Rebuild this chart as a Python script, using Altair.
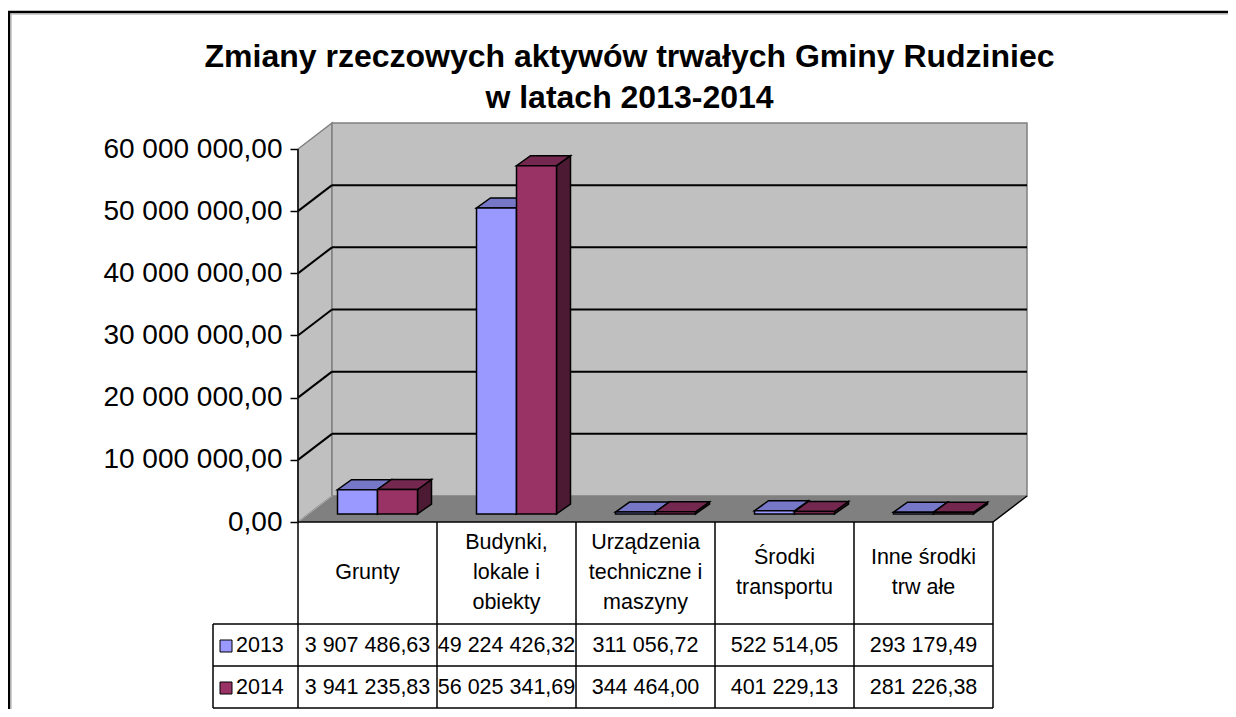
import altair as alt
import pandas as pd

# ---------------- data ----------------
categories = ["Grunty", "Budynki, lokale i obiekty", "Urządzenia techniczne i maszyny",
              "Środki transportu", "Inne środki trwałe"]
header_labels = ["Grunty", "Budynki,\nlokale i\nobiekty", "Urządzenia\ntechniczne i\nmaszyny",
                 "Środki\ntransportu", "Inne środki\ntrw ałe"]
years = ["2013", "2014"]
values_2013 = [3907486.63, 49224426.32, 311056.72, 522514.05, 293179.49]
values_2014 = [3941235.83, 56025341.69, 344464.00, 401229.13, 281226.38]
y_ticks = [0, 10000000, 20000000, 30000000, 40000000, 50000000, 60000000]
title_lines = ["Zmiany rzeczowych aktywów trwałych Gminy Rudziniec", "w latach 2013-2014"]

# ---------------- layout / style constants (pixels) ----------------
W, H = 729, 399
CAT_PX = 139
DEPTH_X, DEPTH_Y = 34, 26
BAR_PX = 40
BAR_DX, BAR_DY = 14, 10
Y_MAX = 60000000
N = len(categories)
UY = (H - DEPTH_Y) / Y_MAX
FONT = "Arial, Liberation Sans, sans-serif"
LINE_H = 30

front_col = {"2013": "#9999FF", "2014": "#993366"}
top_col = {"2013": "#7777C8", "2014": "#74284F"}
side_col = {"2013": "#4D4D80", "2014": "#4D1A33"}


def px_x(p):
    return p / CAT_PX


def px_y(p):
    return p / UY


DX, DY = px_x(DEPTH_X), px_y(DEPTH_Y)
xs = alt.Scale(domain=[0, N + DX], nice=False, zero=False)
ys = alt.Scale(domain=[0, Y_MAX + DY], nice=False, zero=False)
yaxis = alt.Axis(values=y_ticks, title=None, grid=False, domain=False,
                 labelExpr="replace(replace(format(datum.value, ',.2f'), regexp(',', 'g'), ' '), '.', ',')",
                 labelFont=FONT, labelFontSize=28, labelColor="black", labelPadding=8,
                 tickColor="black", tickSize=8, tickWidth=1.5)


def X(f):
    return alt.X(f, type="quantitative", scale=xs, axis=None)


def Y(f):
    return alt.Y(f, type="quantitative", scale=ys, axis=yaxis)


def rules(rows, color="black", width=1.5):
    df = pd.DataFrame(rows, columns=["x", "x2", "y", "y2"])
    return alt.Chart(df).mark_rule(color=color, strokeWidth=width).encode(
        x=X("x"), x2=alt.X2("x2"), y=Y("y"), y2=alt.Y2("y2"))


layers = []

# outer frame (decoration)
frame_df = pd.DataFrame({"a": [0]})
layers.append(alt.Chart(frame_df).mark_rect(fillOpacity=0, stroke="black", strokeWidth=2.5).encode(
    x=alt.value(-289), x2=alt.value(1400), y=alt.value(-111), y2=alt.value(1000)))
layers.append(alt.Chart(frame_df).mark_rect(fillOpacity=0, stroke="#A0A0A0", strokeWidth=1).encode(
    x=alt.value(-287), x2=alt.value(1400), y=alt.value(-109), y2=alt.value(1000)))

# left wall
left_wall = pd.DataFrame({"x": [0, DX], "y": [0, DY], "y2": [Y_MAX, Y_MAX + DY]})
layers.append(alt.Chart(left_wall).mark_area(color="#C0C0C0", stroke="#808080", strokeWidth=1.5,
                                              interpolate="linear").encode(
    x=X("x"), y=Y("y"), y2=alt.Y2("y2")))

# back wall
back_wall = pd.DataFrame({"x": [DX], "x2": [N + DX], "y": [DY], "y2": [Y_MAX + DY]})
layers.append(alt.Chart(back_wall).mark_rect(color="#C0C0C0", stroke="#808080", strokeWidth=1.5).encode(
    x=X("x"), x2=alt.X2("x2"), y=Y("y"), y2=alt.Y2("y2")))

# floor
floor = pd.DataFrame({"x": [0, DX, N, N + DX], "y": [0, 0, 0, DY], "y2": [0, DY, DY, DY]})
layers.append(alt.Chart(floor).mark_area(color="#808080", interpolate="linear").encode(
    x=X("x"), y=Y("y"), y2=alt.Y2("y2")))

# gridlines on back wall and left wall
grid_vals = [v for v in y_ticks if 0 < v < Y_MAX]
layers.append(rules([(DX, N + DX, v + DY, v + DY) for v in grid_vals], width=2))
layers.append(rules([(0, DX, v, v + DY) for v in grid_vals], width=2))
layers.append(rules([(0, DX, 0, DY)], color="#B0B0B0", width=1))
layers.append(rules([(N, N + DX, 0, DY)], width=1.5))
# value axis line
layers.append(rules([(0, 0, 0, Y_MAX)], width=1.5))

# data table grid
T_HEAD, T_ROW = 102, 42
t_left = px_x(-85)
t_bottom = -px_y(T_HEAD + 2 * T_ROW)
tl = [(k, k, 0, t_bottom) for k in range(N + 1)]
tl.append((t_left, t_left, -px_y(T_HEAD), t_bottom))
tl.append((0, N, 0, 0))
for r in range(3):
    yy = -px_y(T_HEAD + r * T_ROW)
    tl.append((t_left, N, yy, yy))
layers.append(rules(tl, width=1.5))

# bars (pseudo-3D: side, top, front faces)
bar_rows = []
for j, (yr, vals) in enumerate(zip(years, [values_2013, values_2014])):
    for i, v in enumerate(vals):
        x0 = i + px_x((DEPTH_X - BAR_DX) / 2 + (CAT_PX - 2 * BAR_PX) / 2 + j * BAR_PX)
        x1 = x0 + px_x(BAR_PX)
        b0 = px_y((DEPTH_Y - BAR_DY) / 2)
        bar_rows.append(dict(year=yr, bar=f"{yr}-{i}", x0=x0, x1=x1, b0=b0, top=b0 + v))

bdx, bdy = px_x(BAR_DX), px_y(BAR_DY)
for yr in years:
    brs = [b for b in bar_rows if b["year"] == yr]
    side_pts, top_pts = [], []
    for b in brs:
        side_pts += [dict(bar=b["bar"], x=b["x1"], y=b["b0"], y2=b["top"]),
                     dict(bar=b["bar"], x=b["x1"] + bdx, y=b["b0"] + bdy, y2=b["top"] + bdy)]
        t = b["top"]
        top_pts += [dict(bar=b["bar"], x=b["x0"], y=t, y2=t),
                    dict(bar=b["bar"], x=b["x0"] + bdx, y=t, y2=t + bdy),
                    dict(bar=b["bar"], x=b["x1"], y=t, y2=t + bdy),
                    dict(bar=b["bar"], x=b["x1"] + bdx, y=t + bdy, y2=t + bdy)]
    layers.append(alt.Chart(pd.DataFrame(side_pts)).mark_area(
        color=side_col[yr], stroke="black", strokeWidth=1.5, interpolate="linear").encode(
        x=X("x"), y=Y("y"), y2=alt.Y2("y2"), detail="bar:N"))
    layers.append(alt.Chart(pd.DataFrame(top_pts)).mark_area(
        color=top_col[yr], stroke="black", strokeWidth=1.5, interpolate="linear").encode(
        x=X("x"), y=Y("y"), y2=alt.Y2("y2"), detail="bar:N"))
    layers.append(alt.Chart(pd.DataFrame(brs)).mark_rect(
        color=front_col[yr], stroke="black", strokeWidth=1.5).encode(
        x=X("x0"), x2=alt.X2("x1"), y=Y("b0"), y2=alt.Y2("top")))

# table header texts (multi-line block centred in the header row)
head_df = pd.DataFrame({
    "x": [i + 0.5 for i in range(N)],
    "y": [-px_y(T_HEAD / 2) + px_y(LINE_H * (lab.count("\n")) / 2) for lab in header_labels],
    "label": header_labels})
layers.append(alt.Chart(head_df).mark_text(font=FONT, fontSize=21.5, color="black", lineBreak="\n",
                                            lineHeight=LINE_H, align="center", baseline="middle").encode(
    x=X("x"), y=Y("y"), text="label:N"))


def fmt(v):
    return f"{v:,.2f}".replace(",", " ").replace(".", ",")


val_rows, lab_rows = [], []
for r, (yr, vals) in enumerate(zip(years, [values_2013, values_2014])):
    yy = -px_y(T_HEAD + r * T_ROW + T_ROW / 2 + 1)
    for i, v in enumerate(vals):
        val_rows.append(dict(x=i + 0.5, y=yy, label=fmt(v)))
    lab_rows.append(dict(x=px_x(-62), xs=px_x(-72), y=yy, label=yr, year=yr))
val_df = pd.DataFrame(val_rows)
lab_df = pd.DataFrame(lab_rows)
layers.append(alt.Chart(val_df).mark_text(font=FONT, fontSize=21.5, color="black",
                                           align="center", baseline="middle").encode(
    x=X("x"), y=Y("y"), text="label:N"))
layers.append(alt.Chart(lab_df).mark_text(font=FONT, fontSize=21.5, color="black",
                                           align="left", baseline="middle").encode(
    x=X("x"), y=Y("y"), text="label:N"))
layers.append(alt.Chart(lab_df).mark_square(size=144, opacity=1, stroke="black", strokeWidth=1).encode(
    x=X("xs"), y=Y("y"),
    color=alt.Color("year:N", scale=alt.Scale(domain=years, range=[front_col[y] for y in years]),
                    legend=None)))

chart = alt.layer(*layers).properties(
    width=W, height=H,
    autosize=alt.AutoSizeParams(type="none"),
    padding={"left": 290, "top": 115, "right": 201, "bottom": 187},
    title=alt.TitleParams(text=title_lines, font=FONT, fontSize=32, fontWeight="bold", color="black",
                          lineHeight=41, anchor="middle", frame="group", dx=-33, dy=114, offset=10),
    background="white",
).configure_view(strokeWidth=0)

chart.save("out.html", embed_options={"renderer": "svg", "actions": False})
